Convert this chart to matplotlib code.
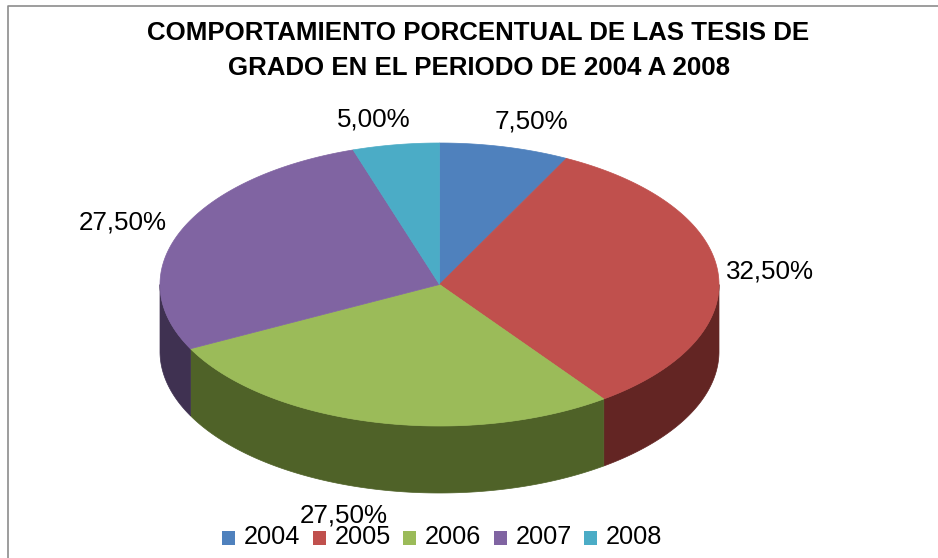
import numpy as np
import matplotlib
matplotlib.use("Agg")
import matplotlib.pyplot as plt
from matplotlib.patches import Polygon, Rectangle
from matplotlib.lines import Line2D

years = ["2004", "2005", "2006", "2007", "2008"]
shares = [7.5, 32.5, 27.5, 27.5, 5.0]
labels = ["7,50%", "32,50%", "27,50%", "27,50%", "5,00%"]
top_colors = ["#4F81BD", "#C0504D", "#9BBB59", "#8064A2", "#4BACC6"]
side_colors = ["#2F4D71", "#632523", "#4F6228", "#3F3151", "#205867"]
title_lines = ["COMPORTAMIENTO PORCENTUAL DE LAS TESIS DE",
               "GRADO EN EL PERIODO DE 2004 A 2008"]

plt.rcParams["font.family"] = ["Liberation Sans", "DejaVu Sans"]
W, H = 938, 558
fig = plt.figure(figsize=(W / 100, H / 100), dpi=100, facecolor="white")
ax = fig.add_axes([0, 0, 1, 1])
ax.set_xlim(0, W)
ax.set_ylim(H, 0)
ax.axis("off")

cx, cy, rx, ry, depth = 439.5, 284.5, 279.5, 141.5, 67
ax.add_line(Line2D([8, 8, W], [H, 5.5, 5.5], color="#8C8C8C", lw=1.2))

def arc(a0, a1, n=200):
    t = np.radians(np.linspace(a0, a1, n))
    return cx + rx * np.sin(t), cy - ry * np.cos(t)

edges = np.concatenate([[0], np.cumsum(shares)]) * 3.6

# side wall (only the front half of the rim is visible)
for i in range(len(shares)):
    a0, a1 = max(edges[i], 90), min(edges[i + 1], 270)
    if a1 <= a0:
        continue
    x, y = arc(a0, a1)
    pts = np.r_[np.c_[x, y], np.c_[x[::-1], y[::-1] + depth]]
    ax.add_patch(Polygon(pts, closed=True, fc=side_colors[i], ec=side_colors[i], lw=0.5))

# top face
for i in range(len(shares)):
    x, y = arc(edges[i], edges[i + 1])
    pts = np.r_[[[cx, cy]], np.c_[x, y]]
    ax.add_patch(Polygon(pts, closed=True, fc=top_colors[i], ec=top_colors[i], lw=0.5))

for line, ty in zip(title_lines, [33, 68]):
    ax.text(478.5, ty, line, ha="center", va="center", fontsize=18.6, fontweight="bold",
            color="black")

label_pos = [(531, 121), (770, 271), (343.5, 515), (122.5, 222.5), (373.5, 119)]
for s, (lx, ly) in zip(labels, label_pos):
    ax.text(lx, ly, s, ha="center", va="center", fontsize=18.7, color="black")

legend_x = [222, 312.5, 403, 493.5, 584]
for lx, c, y in zip(legend_x, top_colors, years):
    ax.add_patch(Rectangle((lx, 531), 13, 14, fc=c, ec="none"))
    ax.text(lx + 22, 537.5, y, ha="left", va="center", fontsize=18.2, color="black")

fig.savefig("out.png", dpi=100)
